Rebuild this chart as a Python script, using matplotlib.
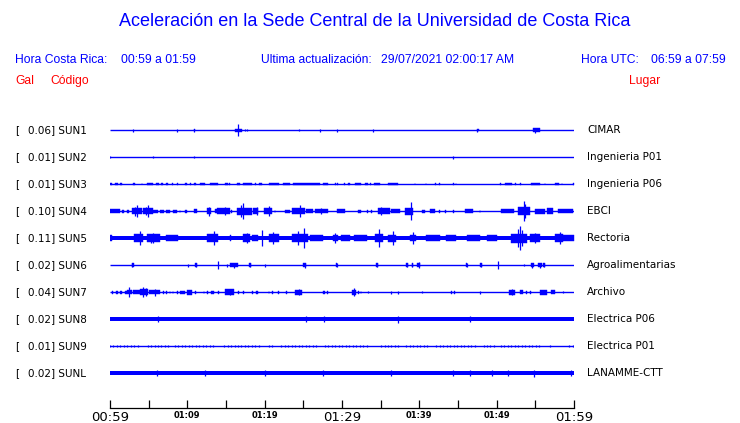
import numpy as np
import matplotlib.pyplot as plt

BLUE = '#0000ff'
RED = '#ff0000'

codes = ['SUN1', 'SUN2', 'SUN3', 'SUN4', 'SUN5', 'SUN6', 'SUN7', 'SUN8', 'SUN9', 'SUNL']
gal = ['0.06', '0.01', '0.01', '0.10', '0.11', '0.02', '0.04', '0.02', '0.01', '0.02']
places = ['CIMAR', 'Ingenieria P01', 'Ingenieria P06', 'EBCI', 'Rectoria',
          'Agroalimentarias', 'Archivo', 'Electrica P06', 'Electrica P01', 'LANAMME-CTT']
# half thickness of the quiet trace, in pixels (0 = plain thin line)
base_px = [0, 0, 0, 0, 2.0, 0, 0, 2.0, 0, 2.0]

# bursts: (start minute, end minute, half height px)
sun1_blocks = [(10.8, 11.0, 1.2), (16.2, 17.1, 1.5), (47.4, 47.7, 1.3), (54.7, 55.6, 2.2)]
sun1_spikes = [(3.0, 1.5), (8.7, 1.5), (10.9, 1.5), (16.6, 6), (17.4, 1), (17.7, 1), (24.4, 1),
               (27.1, 1.5), (29.4, 1.5), (34.0, 1.5), (47.5, 1.5), (55.0, 2.5)]

sun2_blocks = []
sun2_spikes = [(0.05, 1), (5.6, 1), (10.9, 1), (44.4, 1.5)]

sun3_blocks = [(0.0, 0.2, 1.3), (0.6, 1.0, 1.3), (1.3, 1.5, 1.3), (3.0, 3.2, 1.3), (4.1, 4.2, 1.3),
               (4.75, 5.6, 1.3), (5.9, 6.3, 1.3), (6.6, 6.8, 1.3), (7.3, 7.5, 1.3), (8.0, 8.2, 1.3),
               (8.6, 8.8, 1.3), (9.7, 9.9, 1.3), (10.3, 10.5, 1.3), (10.9, 11.1, 1.3), (11.6, 12.3, 1.3),
               (12.9, 14.0, 1.3), (14.9, 15.2, 1.3), (15.4, 15.5, 1.3), (16.4, 16.8, 1.3), (17.2, 18.3, 1.3),
               (18.75, 18.9, 1.3), (19.3, 19.6, 1.3), (20.5, 21.8, 1.3), (22.4, 23.3, 1.3), (23.7, 27.2, 1.3),
               (27.6, 28.2, 1.3), (29.1, 29.2, 1.3), (29.4, 29.5, 1.3), (30.2, 30.4, 1.3), (30.8, 31.0, 1.3),
               (31.7, 32.5, 1.3), (33.0, 33.3, 1.3), (33.6, 33.8, 1.3), (34.1, 34.9, 1.3), (36.0, 37.3, 1.3),
               (39.4, 39.5, 1.3), (40.8, 40.9, 1.3), (42.0, 42.1, 1.3), (42.6, 42.7, 1.3), (44.4, 44.5, 1.3),
               (44.7, 44.8, 1.3), (50.4, 50.5, 1.3), (51.1, 52.0, 1.3), (52.4, 52.5, 1.3), (53.0, 53.2, 1.3),
               (54.5, 55.6, 1.3), (56.2, 56.3, 1.3), (57.5, 58.0, 1.3), (58.4, 58.5, 1.3), (59.85, 60.0, 1.3)]
sun3_spikes = []

sun4_blocks = [(0.0, 1.3, 2), (1.5, 1.8, 1.5), (2.2, 2.4, 1.5), (2.8, 4.1, 3), (4.3, 5.6, 3),
               (5.6, 6.2, 1.5), (6.5, 7.0, 1.5), (7.3, 7.8, 1.5), (8.2, 8.6, 1.5), (9.0, 9.1, 1.5),
               (9.7, 9.9, 1.5), (10.8, 11.2, 2), (12.5, 13.1, 3), (13.6, 14.2, 2), (13.8, 15.5, 3),
               (15.7, 15.8, 1.5), (16.4, 18.3, 3.5), (18.5, 19.2, 3), (19.9, 20.9, 3), (21.3, 21.4, 1.5),
               (22.6, 23.3, 1.5), (23.5, 25.2, 3), (25.4, 26.3, 2), (26.5, 28.2, 2.2), (29.3, 30.4, 2),
               (32.1, 32.5, 1.5), (33.2, 33.3, 1.5), (33.8, 33.9, 1.5), (34.7, 36.2, 3), (36.4, 37.5, 2),
               (38.1, 39.2, 3.5), (40.3, 40.7, 1.5), (41.4, 42.0, 2), (42.5, 42.7, 1.5), (43.3, 43.4, 1.5),
               (44.4, 44.5, 1.5), (45.9, 47.0, 2), (47.8, 47.9, 1.5), (50.6, 52.2, 2), (52.8, 54.3, 4),
               (55.0, 56.2, 2.5), (56.5, 57.3, 3), (57.9, 59.9, 2)]
sun4_spikes = [(3.45, 6), (3.2, 4.5), (4.87, 6), (4.6, 4), (12.8, 4.5), (14.9, 4), (17.0, 6),
               (17.2, 8), (19.0, 4), (20.5, 5), (24.6, 6), (27.3, 3), (35.1, 4), (38.9, 9),
               (53.5, 10), (53.7, 7)]

sun5_blocks = [(0.0, 0.3, 3), (3.1, 4.3, 4), (4.75, 6.5, 4), (7.3, 8.8, 2.8), (12.5, 14.0, 4),
               (15.5, 15.6, 2.8), (17.2, 18.1, 4), (18.3, 19.2, 3), (20.5, 21.8, 4), (23.5, 25.6, 4),
               (25.9, 27.6, 3), (28.9, 29.5, 3), (29.9, 31.0, 2.6), (31.5, 33.2, 2.6), (34.3, 35.3, 4),
               (36.0, 37.0, 3.5), (38.8, 39.6, 3), (40.9, 42.7, 2.6), (43.5, 44.8, 2.6), (46.1, 47.8, 2.6),
               (48.7, 50.0, 2.6), (51.9, 53.9, 4.5), (54.3, 55.6, 4), (57.5, 58.6, 4), (58.6, 60.0, 3)]
sun5_spikes = [(3.9, 7), (5.6, 5), (5.3, 4.5), (13.4, 7), (17.7, 5), (19.7, 8), (21.1, 6),
               (24.3, 7), (25.1, 10), (29.1, 5), (34.8, 9), (36.6, 7), (39.2, 6), (53.0, 12),
               (52.8, 9), (53.3, 8), (55.0, 5), (58.2, 6)]

sun6_blocks = [(2.8, 3.1, 1.8), (11.0, 11.2, 1.8), (15.5, 16.6, 1.8), (18.0, 18.2, 1.8),
               (25.0, 25.4, 2), (29.2, 29.4, 1.8), (34.4, 34.6, 1.8), (38.3, 38.5, 1.8),
               (39.0, 39.2, 1.8), (39.7, 40.1, 2.2), (46.0, 46.2, 1.8), (47.9, 48.1, 1.8),
               (54.5, 54.8, 2), (55.4, 55.8, 2.2), (56.0, 56.2, 1.8)]
sun6_spikes = [(2.9, 2), (10.1, 1.5), (11.1, 2), (14.0, 4), (15.1, 1.5), (16.0, 2.5), (18.1, 2),
               (20.1, 1.5), (25.2, 2.5), (29.3, 2), (34.5, 2), (38.4, 2), (39.1, 2), (39.9, 3),
               (46.1, 2), (48.0, 2), (50.2, 4), (53.5, 1), (54.6, 2.5), (55.6, 2.5), (56.1, 2)]

sun7_blocks = [(0.2, 0.4, 1.5), (0.8, 1.0, 1.5), (1.3, 1.6, 1.5), (1.9, 2.2, 1.5), (2.2, 2.8, 2.2),
               (3.0, 3.9, 2), (3.9, 4.9, 2.8), (5.0, 6.5, 2), (6.9, 7.0, 1.5), (7.3, 7.4, 1.5),
               (7.7, 7.8, 1.5), (8.1, 8.2, 1.5), (8.6, 8.8, 1.5), (9.1, 9.7, 1.5), (9.9, 10.6, 2.5),
               (11.0, 11.1, 1.5), (12.1, 12.2, 1.5), (12.5, 12.7, 1.5), (13.1, 13.4, 1.5), (14.0, 14.1, 1.5),
               (14.9, 16.0, 2.8), (16.6, 16.7, 1.5), (17.2, 17.3, 1.5), (18.3, 18.5, 1.5), (18.9, 19.2, 1.5),
               (20.5, 20.6, 1.5), (21.0, 21.1, 1.5), (21.7, 21.8, 1.5), (22.8, 22.9, 1.5), (23.9, 24.8, 2.5),
               (27.6, 27.8, 1.5), (28.0, 28.2, 1.5), (31.3, 31.8, 2.5), (32.1, 32.2, 1.5), (32.4, 32.5, 1.5),
               (44.1, 44.2, 1.5), (44.5, 44.6, 1.5), (51.6, 52.4, 2.5), (53.0, 53.4, 2), (53.8, 53.9, 1.5),
               (54.3, 54.4, 1.5), (55.6, 56.5, 2.5), (57.0, 57.5, 2)]
sun7_spikes = [(2.4, 5), (4.3, 5), (4.6, 4), (5.8, 3.5), (15.5, 3), (24.4, 3), (31.5, 4), (33.4, 1),
               (36.4, 1.5), (37.2, 1.5), (40.3, 1), (47.8, 1.5), (52.0, 3), (58.6, 1)]

sun8_blocks = []
sun8_spikes = [(6.25, 3), (25.4, 3), (27.7, 3), (37.2, 3.5), (46.5, 3)]

sun9_blocks = []
sun9_spikes = [(0.0, 1), (0.4, 1), (0.9, 1), (1.3, 1), (1.8, 1), (2.2, 1), (2.7, 1), (3.1, 1), (3.6, 1),
               (4.9, 1), (5.3, 1), (5.8, 1), (6.2, 1), (6.6, 1), (7.1, 1), (7.5, 1), (8.4, 1), (8.8, 1),
               (9.3, 1), (9.7, 1), (10.2, 1), (10.6, 1), (11.1, 1), (11.5, 1), (12.0, 1), (12.4, 1),
               (12.9, 1), (13.3, 1), (14.8, 1), (15.2, 1), (15.7, 1), (16.1, 1), (16.6, 1), (17.0, 1.3),
               (17.5, 1), (17.9, 1), (18.4, 1), (18.8, 1), (19.3, 1), (20.5, 1), (21.0, 1), (22.1, 1),
               (22.6, 1), (23.0, 1), (23.5, 1), (23.9, 1), (24.4, 1), (24.8, 1.3), (25.3, 1), (25.7, 1),
               (26.2, 1), (26.6, 1), (27.8, 1), (28.2, 1), (28.7, 1), (29.1, 1), (29.6, 1), (30.0, 1),
               (30.5, 1), (30.9, 1), (31.4, 1), (31.8, 1), (32.3, 1), (32.7, 1), (33.2, 1), (35.0, 1),
               (35.5, 1), (35.9, 1), (36.4, 1), (36.8, 1.3), (37.3, 1), (38.3, 1), (38.8, 1), (39.2, 1),
               (39.7, 1), (40.1, 1), (40.6, 1), (41.0, 1), (42.2, 1), (42.7, 1), (43.1, 1), (43.6, 1),
               (44.0, 1), (44.5, 1), (44.9, 1), (45.4, 1), (45.8, 1), (46.3, 1.3), (46.7, 1), (47.2, 1),
               (48.3, 1), (48.8, 1), (49.2, 1), (49.7, 1), (50.6, 1), (51.0, 1), (51.5, 1), (51.9, 1),
               (52.4, 1), (52.8, 1), (53.3, 1.3), (53.7, 1), (54.2, 1), (54.6, 1), (55.1, 1), (55.5, 1),
               (56.9, 1), (59.4, 1), (59.9, 1)]

sunl_blocks = []
sunl_spikes = [(6.1, 3), (12.3, 3), (20.0, 3), (27.5, 3), (36.3, 2.8), (44.3, 2.8), (46.5, 2.8),
               (49.4, 2.8), (51.5, 2.8), (54.8, 3.5), (59.6, 3)]

all_blocks = [sun1_blocks, sun2_blocks, sun3_blocks, sun4_blocks, sun5_blocks,
              sun6_blocks, sun7_blocks, sun8_blocks, sun9_blocks, sunl_blocks]
all_spikes = [sun1_spikes, sun2_spikes, sun3_spikes, sun4_spikes, sun5_spikes,
              sun6_spikes, sun7_spikes, sun8_spikes, sun9_spikes, sunl_spikes]

tick_minutes = list(range(0, 61, 5))
tick_labels = {0: '00:59', 10: '01:09', 20: '01:19', 30: '01:29', 40: '01:39', 50: '01:49', 60: '01:59'}
big_ticks = [0, 30, 60]

W, H = 740, 423
fig = plt.figure(figsize=(W / 100, H / 100), dpi=100)
ax = fig.add_axes([110 / W, 15 / H, 464 / W, 305 / H])
ax.set_xlim(0, 60)
ax.set_ylim(10.296, -1)
px = 1 / 27.0  # one pixel in data units (trace spacing = 27 px)

for i in range(len(codes)):
    if base_px[i] > 0:
        b = base_px[i] * px
        ax.fill_between([0, 60], i - b, i + b, color=BLUE, lw=0)
    else:
        ax.plot([0, 60], [i, i], color=BLUE, lw=1.0, solid_capstyle='butt')
    for t0, t1, a in all_blocks[i]:
        ax.fill_between([t0, t1], i - a * px, i + a * px, color=BLUE, lw=0.3)
    for t, a in all_spikes[i]:
        ax.vlines(t, i - a * px, i + a * px, color=BLUE, lw=0.9)

    fig.text(15 / W, 1 - (130 + 27 * i) / H, '[', fontsize=7.5, color='black',
             family='DejaVu Sans', va='center')
    fig.text(27.5 / W, 1 - (130 + 27 * i) / H, gal[i] + '] ' + codes[i], fontsize=7.5,
             color='black', family='DejaVu Sans', va='center')
    fig.text(587 / W, 1 - (130 + 27 * i) / H, places[i], fontsize=7.5, color='black',
             family='DejaVu Sans', va='center')

for s in ['top', 'left', 'right']:
    ax.spines[s].set_visible(False)
ax.spines['bottom'].set_linewidth(0.9)
ax.set_yticks([])
ax.set_xticks(tick_minutes)
ax.set_xticklabels([tick_labels.get(m, '') for m in tick_minutes])
ax.tick_params(axis='x', direction='in', length=6, width=0.9, pad=2)
for m, lbl in zip(tick_minutes, ax.get_xticklabels()):
    if m in big_ticks:
        lbl.set_fontsize(9.5)
    else:
        lbl.set_fontsize(6)
        lbl.set_fontweight('bold')

hf = 'Liberation Sans'
fig.text(375 / W, 1 - 22 / H, 'Aceleración en la Sede Central de la Universidad de Costa Rica',
         ha='center', va='center', fontsize=13, color=BLUE, family=hf)
y2 = 1 - 60 / H
fs2 = 8.7
fig.text(15 / W, y2, 'Hora Costa Rica:', fontsize=fs2, color=BLUE, family=hf, va='center')
fig.text(121 / W, y2, '00:59 a 01:59', fontsize=fs2, color=BLUE, family=hf, va='center')
fig.text(261 / W, y2, 'Ultima actualización:', fontsize=fs2, color=BLUE, family=hf, va='center')
fig.text(381 / W, y2, '29/07/2021 02:00:17 AM', fontsize=fs2, color=BLUE, family=hf, va='center')
fig.text(581 / W, y2, 'Hora UTC:', fontsize=fs2, color=BLUE, family=hf, va='center')
fig.text(726 / W, y2, '06:59 a 07:59', fontsize=fs2, color=BLUE, family=hf, va='center', ha='right')
y3 = 1 - 81 / H
fig.text(15 / W, y3, 'Gal', fontsize=fs2, color=RED, family=hf, va='center')
fig.text(50 / W, y3, 'Código', fontsize=fs2, color=RED, family=hf, va='center')
fig.text(629 / W, y3, 'Lugar', fontsize=fs2, color=RED, family=hf, va='center')

fig.savefig('out.png', dpi=100)
